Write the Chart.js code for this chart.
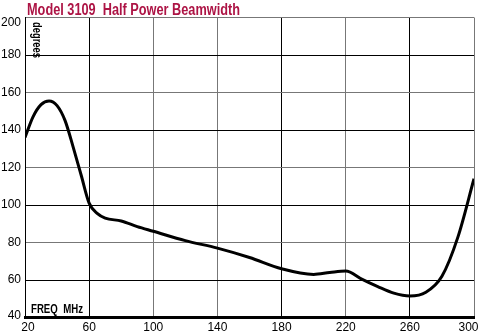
<!DOCTYPE html>
<html><head><meta charset="utf-8">
<script src="https://cdn.jsdelivr.net/npm/chart.js@4"></script>
<style>html,body{margin:0;padding:0;background:#fff}#w{width:481px;height:336px}</style>
</head><body><div id="w"><canvas id="c"></canvas></div>
<script>
const freqs = [20,25,30,35,40,45,50,55,60,65,70,80,90,100,120,140,160,180,200,210,220,230,240,250,260,270,280,290,300];
const beamwidth = [136,147,153.5,155.5,153,145,131,116,101,95.5,93,91.5,88.5,86,81,77,72,66,63,64,64.8,60.5,56.5,53,51.5,53.5,62,83,114];
const xTicks = [20,60,100,140,180,220,260,300];
const yTicks = [40,60,80,100,120,140,160,180,200];
const titleText = 'Model 3109  Half Power Beamwidth';
const yLabel = 'degrees';
const xLabel = 'FREQ  MHz';
const FONT = '"Liberation Sans",Arial,sans-serif';

function squeezedText(ctx, text, x, y, targetW){
  const w = ctx.measureText(text).width;
  const s = Math.min(1, targetW / w);
  ctx.save();
  ctx.translate(x, y);
  ctx.scale(s, 1);
  ctx.fillText(text, 0, 0);
  ctx.restore();
}

// nudge edge tick labels inward, as in the original print
const edgeLabelPlugin = {
  id:'edgeLabels',
  beforeDraw(chart){
    const xs = chart.scales.x.getLabelItems();
    if (xs.length){
      xs[0].options.translation[0] += 3;
      xs[xs.length-1].options.translation[0] -= 5.5;
    }
    const ys = chart.scales.y.getLabelItems();
    if (ys.length){
      ys[ys.length-1].options.translation[1] += 5;
      ys[0].options.translation[1] -= 2;
    }
  }
};

const textPlugin = {
  id:'texts',
  afterDraw(chart){
    const {ctx, chartArea:a} = chart;
    ctx.save();
    ctx.textAlign = 'left';
    ctx.textBaseline = 'alphabetic';
    ctx.fillStyle = '#ad1445';
    ctx.font = 'bold 16px ' + FONT;
    squeezedText(ctx, titleText, 27, 15, 213);
    ctx.fillStyle = '#000';
    ctx.font = 'bold 12px ' + FONT;
    squeezedText(ctx, xLabel, a.left+6, a.bottom-4.5, 52);
    ctx.translate(a.left+5.5, a.top+4.5);
    ctx.rotate(Math.PI/2);
    ctx.textBaseline = 'bottom';
    ctx.font = 'bold 12px ' + FONT;
    squeezedText(ctx, yLabel, 0, 0, 36);
    ctx.restore();
  }
};

new Chart(document.getElementById('c'), {
  type:'line',
  data:{datasets:[{
    data: freqs.map((f,i)=>({x:f,y:beamwidth[i]})),
    borderColor:'#000', borderWidth:3, pointRadius:0, fill:false,
    cubicInterpolationMode:'monotone'
  }]},
  options:{
    responsive:true, maintainAspectRatio:false, animation:false,
    layout:{autoPadding:false, padding:{top:17.5,right:7,left:0,bottom:0}},
    plugins:{legend:{display:false}, tooltip:{enabled:false}},
    scales:{
      x:{type:'linear', min:20, max:300,
        afterBuildTicks(s){s.ticks = xTicks.map(v=>({value:v}));},
        afterFit(s){s.height = 18.5; s.paddingLeft = 0; s.paddingRight = 0;},
        ticks:{color:'#000', font:{family:FONT,size:12}, padding:3, maxRotation:0},
        grid:{drawTicks:false, color:c=>{const v=c.tick&&c.tick.value; return (v===60||v===180||v===260)?'#000':'#777';}, lineWidth:1},
        border:{color:'#000', width:3}
      },
      y:{min:40, max:200,
        afterBuildTicks(s){s.ticks = yTicks.map(v=>({value:v}));},
        afterFit(s){s.width = 25; s.paddingTop = 0; s.paddingBottom = 0;},
        ticks:{color:'#000', font:{family:FONT,size:12}, padding:4},
        grid:{drawTicks:false, color:c=>{const v=c.tick&&c.tick.value; return (v===180||v===140||v===100||v===60)?'#000':'#777';}, lineWidth:1},
        border:{color:'#000', width:1}
      }
    }
  },
  plugins:[edgeLabelPlugin, textPlugin]
});
</script></body></html>
